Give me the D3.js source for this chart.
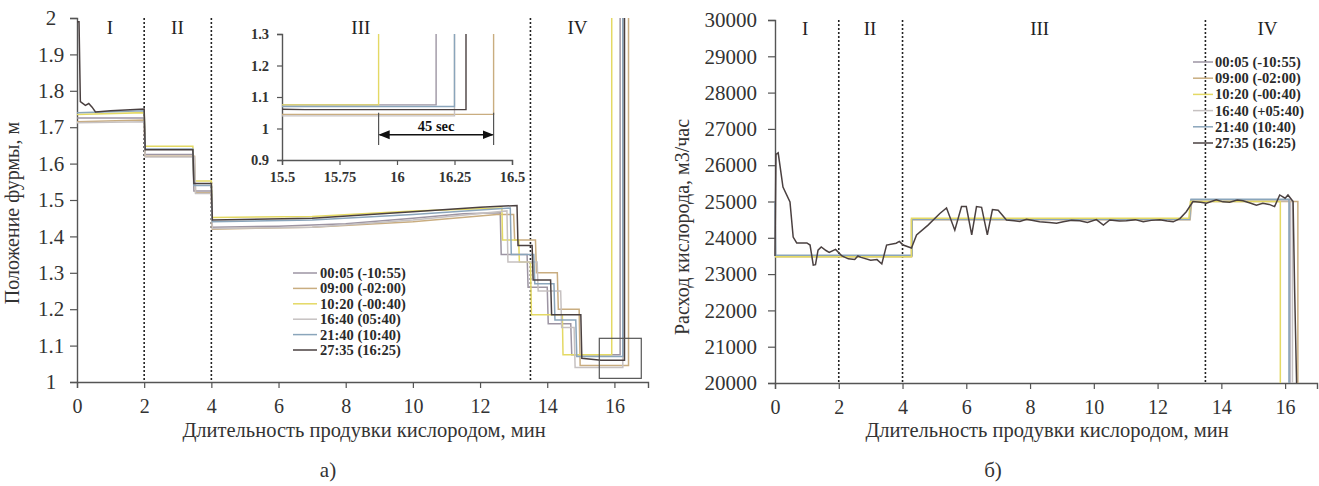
<!DOCTYPE html>
<html>
<head>
<meta charset="utf-8">
<script src="https://cdn.jsdelivr.net/npm/d3@7"></script>
<style>
  body { margin: 0; background: #fff; }
  svg { display: block; }
  svg text { font-family: "Liberation Serif", "DejaVu Serif", serif; }
</style>
</head>
<body>
<svg id="fig" width="1319" height="486"></svg>
<script>
// ---- heat labels (time from start, offset) ----
const labelsPos  = ["00:05 (-10:55)", "09:00 (-02:00)", "10:20 (-00:40)", "16:40 (05:40)", "21:40 (10:40)", "27:35 (16:25)"];
const labelsFlow = ["00:05 (-10:55)", "09:00 (-02:00)", "10:20 (-00:40)", "16:40 (+05:40)", "21:40 (10:40)", "27:35 (16:25)"];
const heatColors = ["#9d95a3", "#c9ad80", "#e4d964", "#c6c1c1", "#8aa5bb", "#4a4040"];

// ---- ticks ----
const minuteTicks  = [0, 2, 4, 6, 8, 10, 12, 14, 16];
const posTicks     = [1, 1.1, 1.2, 1.3, 1.4, 1.5, 1.6, 1.7, 1.8, 1.9, 2];
const flowTicks    = [20000, 21000, 22000, 23000, 24000, 25000, 26000, 27000, 28000, 29000, 30000];
const zoomMinTicks = [15.5, 15.75, 16, 16.25, 16.5];
const zoomPosTicks = [0.9, 1, 1.1, 1.2, 1.3];

// ---- blow stages ----
const stageBounds = [2, 4, 13.5];
const stageNames  = ["I", "II", "III", "IV"];
const stageXPos   = [0.98, 2.99, 8.45, 14.9];
const stageXFlow  = [0.95, 2.98, 8.3, 15.45];

// ---- lance position, m, vs blow time, min ----
const pos0005 = [[0,1.725],[2.0,1.725],[2.03,1.625],[3.45,1.625],[3.48,1.525],[4.0,1.525],[4.03,1.425],[6,1.428],[8,1.435],[10,1.45],[11.5,1.462],[12.6,1.465],[12.63,1.35],[13.4,1.35],[13.43,1.26],[14.0,1.26],[14.03,1.16],[14.7,1.16],[14.73,1.075],[16.17,1.075],[16.17,2.0]];
const pos0900 = [[0,1.715],[2.0,1.72],[2.03,1.62],[3.5,1.62],[3.53,1.52],[4.0,1.52],[4.03,1.42],[7,1.425],[10,1.44],[12.5,1.46],[13.0,1.46],[13.03,1.39],[13.65,1.39],[13.68,1.30],[14.3,1.30],[14.33,1.20],[14.95,1.2],[14.98,1.045],[16.42,1.045],[16.42,2.0]];
const pos1020 = [[0,1.735],[2.0,1.74],[2.03,1.648],[3.45,1.648],[3.48,1.552],[4.0,1.552],[4.03,1.452],[7,1.455],[10,1.47],[12.65,1.478],[12.67,1.39],[13.15,1.39],[13.17,1.33],[13.5,1.33],[13.53,1.185],[14.45,1.185],[14.47,1.075],[15.92,1.075],[15.92,2.0]];
const pos1640 = [[0,1.712],[2.0,1.715],[2.03,1.618],[3.5,1.618],[3.53,1.518],[4.0,1.518],[4.03,1.422],[7,1.425],[10,1.445],[12.8,1.47],[12.83,1.33],[13.7,1.33],[13.73,1.25],[14.4,1.25],[14.43,1.15],[14.8,1.15],[14.83,1.04],[16.25,1.04],[16.25,2.0]];
const pos2140 = [[0,1.74],[2.0,1.745],[2.03,1.64],[3.45,1.64],[3.48,1.54],[4.0,1.54],[4.03,1.44],[7,1.445],[10,1.46],[12.9,1.478],[12.93,1.35],[13.6,1.35],[13.63,1.27],[14.2,1.27],[14.23,1.17],[14.85,1.17],[14.88,1.07],[16.25,1.07],[16.25,2.0]];
const pos2735 = [[0,1.99],[0.06,1.99],[0.1,1.77],[0.25,1.76],[0.35,1.765],[0.45,1.755],[0.55,1.742],[1.0,1.745],[2.0,1.75],[2.03,1.638],[3.45,1.638],[3.48,1.545],[4.0,1.545],[4.03,1.445],[7,1.45],[10,1.468],[12.0,1.48],[13.1,1.485],[13.13,1.375],[13.55,1.375],[13.58,1.28],[14.1,1.28],[14.13,1.185],[15.0,1.185],[15.03,1.065],[15.6,1.06],[16.3,1.06],[16.3,2.0]];

// ---- oxygen flow, m3/h, vs blow time, min ----
const flow0005 = [[0,23500],[4.3,23500],[4.3,24520],[13.0,24520],[13.05,25050],[16.15,25050],[16.15,20000]];
const flow0900 = [[0,23480],[4.28,23480],[4.28,24500],[13.02,24500],[13.07,25000],[16.4,25000],[16.4,20000]];
const flow1020 = [[0,23480],[4.28,23480],[4.28,24540],[12.98,24540],[13.03,25000],[15.85,25000],[15.85,20000]];
const flow1640 = [[0,23500],[4.3,23500],[4.3,24500],[13.0,24500],[13.05,25020],[16.23,25020],[16.23,20000]];
const flow2140 = [[0,25000],[0.02,23520],[4.3,23520],[4.3,24510],[13.0,24510],[13.05,25060],[16.12,25060],[16.12,20000]];
const flow2735 = [[0,23500],[0.03,26300],[0.1,26340],[0.25,25400],[0.47,24990],[0.57,24020],[0.68,23860],[1.0,23860],[1.1,23800],[1.2,23250],[1.27,23260],[1.35,23660],[1.45,23750],[1.6,23650],[1.7,23600],[1.9,23680],[2.1,23500],[2.3,23420],[2.5,23400],[2.6,23500],[2.7,23460],[3.0,23380],[3.2,23400],[3.35,23280],[3.5,23800],[3.8,23850],[3.9,23900],[4.02,23800],[4.28,23720],[4.44,24080],[4.8,24350],[5.17,24670],[5.38,24820],[5.64,24210],[5.85,24860],[6.0,24860],[6.17,24080],[6.32,24860],[6.48,24840],[6.66,24080],[6.82,24780],[7.0,24760],[7.26,24490],[7.5,24470],[7.68,24450],[7.89,24510],[8.3,24440],[8.6,24420],[8.83,24400],[9.04,24440],[9.3,24480],[9.56,24470],[9.8,24420],[10.08,24500],[10.3,24350],[10.5,24490],[10.8,24460],[11.02,24470],[11.3,24500],[11.55,24440],[11.8,24480],[12.07,24500],[12.3,24460],[12.49,24440],[12.7,24530],[12.9,24720],[13.11,25000],[13.35,24980],[13.53,24950],[13.84,25050],[14.05,24990],[14.26,24980],[14.5,25040],[14.68,25020],[14.9,24960],[15.1,24900],[15.3,24950],[15.5,24920],[15.67,24860],[15.83,25180],[16.0,25090],[16.09,25180],[16.25,25000],[16.3,22500],[16.36,20000]];

const posSeries  = [pos0005, pos0900, pos1020, pos1640, pos2140, pos2735];
const flowSeries = [flow0005, flow0900, flow1640, flow2140, flow1020, flow2735];
const flowColors = [heatColors[0], heatColors[1], heatColors[3], heatColors[4], heatColors[2], heatColors[5]];

const svg = d3.select("#fig");
const ink = "#333";
const axisInk = "#555";
const serif = "'Liberation Serif', 'DejaVu Serif', serif";

// ---- scales ----
const xL = d3.scaleLinear().domain([0, 17]).range([77, 648]);
const yL = d3.scaleLinear().domain([1, 2]).range([382, 18]);
const xR = d3.scaleLinear().domain([0, 17]).range([775, 1317]);
const yR = d3.scaleLinear().domain([20000, 30000]).range([383, 20]);
const xI = d3.scaleLinear().domain([15.5, 16.5]).range([282, 512]);
const yI = d3.scaleLinear().domain([0.9, 1.3]).range([160, 34]);

function styleAxis(g, size, weight) {
  g.attr("font-family", serif).attr("font-size", null);
  g.select(".domain").attr("stroke", axisInk).attr("stroke-width", 1.4);
  g.selectAll(".tick line").attr("stroke", axisInk).attr("stroke-width", 1.2);
  g.selectAll(".tick text").attr("fill", ink).attr("font-family", serif)
    .attr("font-size", size).attr("font-weight", weight || "normal");
}

// ---- left panel: lance position ----
const left = svg.append("g");

left.append("g").attr("transform", "translate(0,382)")
  .call(d3.axisBottom(xL).tickValues(minuteTicks).tickSizeOuter(0).tickSize(6).tickPadding(11).tickFormat(String))
  .call(g => styleAxis(g, 20));
left.append("g").attr("transform", "translate(77,0)")
  .call(d3.axisLeft(yL).tickValues(posTicks).tickSizeOuter(0).tickSize(7).tickFormat(String))
  .call(g => styleAxis(g, 21))
  .call(g => g.selectAll(".tick text").attr("text-anchor", "middle").attr("x", -26));

left.selectAll("line.stage").data(stageBounds).join("line")
  .attr("x1", d => xL(d)).attr("x2", d => xL(d)).attr("y1", yL(2)).attr("y2", yL(1))
  .attr("stroke", "#222").attr("stroke-width", 1.6).attr("stroke-dasharray", "2,2");

left.selectAll("text.stage").data(stageNames).join("text")
  .attr("x", (d, i) => xL(stageXPos[i])).attr("y", 34).attr("text-anchor", "middle")
  .attr("font-family", serif).attr("font-size", 19).attr("fill", "#222").text(d => d);

const lineL = d3.line().x(d => xL(d[0])).y(d => yL(d[1]));
left.selectAll("path.pos").data(posSeries).join("path")
  .attr("d", lineL).attr("fill", "none")
  .attr("stroke", (d, i) => heatColors[i]).attr("stroke-width", 1.5);

// zoom frame around the end of blow
left.append("rect")
  .attr("x", xL(15.55)).attr("y", yL(1.12))
  .attr("width", xL(16.8) - xL(15.55)).attr("height", yL(1.01) - yL(1.12))
  .attr("fill", "none").attr("stroke", axisInk).attr("stroke-width", 1.2);

// legend
const legL = left.append("g");
labelsPos.forEach((lab, i) => {
  const y = 273 + i * 15.4;
  legL.append("line").attr("x1", 293).attr("x2", 317).attr("y1", y).attr("y2", y)
    .attr("stroke", heatColors[i]).attr("stroke-width", 1.5);
  legL.append("text").attr("x", 320).attr("y", y).attr("dy", "0.34em")
    .attr("font-family", serif).attr("font-size", 14.5).attr("font-weight", "bold")
    .attr("fill", "#2a2a2a").text(lab);
});

left.append("text").attr("transform", "translate(19,213) rotate(-90)")
  .attr("text-anchor", "middle").attr("font-family", serif).attr("font-size", 20)
  .attr("fill", ink).text("Положение фурмы, м");
left.append("text").attr("x", 364).attr("y", 437).attr("text-anchor", "middle")
  .attr("font-family", serif).attr("font-size", 20.5).attr("fill", ink)
  .text("Длительность продувки кислородом, мин");

// ---- inset: end of blow ----
const inset = svg.append("g");
const defs = svg.append("defs");
defs.append("clipPath").attr("id", "insetClip")
  .append("rect").attr("x", 282).attr("y", 34).attr("width", 230).attr("height", 126);
defs.append("marker").attr("id", "arrow").attr("viewBox", "0 0 10 10")
  .attr("refX", 9).attr("refY", 5).attr("markerWidth", 7).attr("markerHeight", 7)
  .attr("orient", "auto-start-reverse")
  .append("path").attr("d", "M0,1 L10,5 L0,9 Z").attr("fill", "#111");

inset.append("g").attr("transform", "translate(0,160)")
  .call(d3.axisBottom(xI).tickValues(zoomMinTicks).tickSizeOuter(0).tickSize(5).tickPadding(7).tickFormat(String))
  .call(g => styleAxis(g, 14.5, "bold"));
inset.append("g").attr("transform", "translate(282,0)")
  .call(d3.axisLeft(yI).tickValues(zoomPosTicks).tickSizeOuter(0).tickSize(5).tickPadding(8).tickFormat(String))
  .call(g => styleAxis(g, 14.5, "bold"));

const lineI = d3.line().x(d => xI(d[0])).y(d => yI(d[1]));
inset.append("g").attr("clip-path", "url(#insetClip)")
  .selectAll("path").data(posSeries).join("path")
  .attr("d", lineI).attr("fill", "none")
  .attr("stroke", (d, i) => heatColors[i]).attr("stroke-width", 1.4);

// 45 s span between first and last lance lift
[15.92, 16.42].forEach(t => {
  inset.append("line").attr("x1", xI(t)).attr("x2", xI(t)).attr("y1", yI(1.05)).attr("y2", yI(0.948))
    .attr("stroke", "#555").attr("stroke-width", 1.2);
});
inset.append("line").attr("x1", xI(15.92) + 1).attr("x2", xI(16.42) - 1)
  .attr("y1", yI(0.98)).attr("y2", yI(0.98))
  .attr("stroke", "#111").attr("stroke-width", 1.6)
  .attr("marker-start", "url(#arrow)").attr("marker-end", "url(#arrow)");
inset.append("text").attr("x", xI(16.17)).attr("y", yI(0.993)).attr("text-anchor", "middle")
  .attr("font-family", serif).attr("font-size", 14.5).attr("font-weight", "bold")
  .attr("fill", "#111").text("45 sec");

// ---- right panel: oxygen flow ----
const right = svg.append("g");

right.append("g").attr("transform", "translate(0,383)")
  .call(d3.axisBottom(xR).tickValues(minuteTicks).tickSizeOuter(0).tickSize(6).tickPadding(11).tickFormat(String))
  .call(g => styleAxis(g, 20));
right.append("g").attr("transform", "translate(775,0)")
  .call(d3.axisLeft(yR).tickValues(flowTicks).tickSizeOuter(0).tickSize(7).tickPadding(11).tickFormat(String))
  .call(g => styleAxis(g, 21));

right.selectAll("line.stage").data(stageBounds).join("line")
  .attr("x1", d => xR(d)).attr("x2", d => xR(d)).attr("y1", yR(30000)).attr("y2", yR(20000))
  .attr("stroke", "#222").attr("stroke-width", 1.6).attr("stroke-dasharray", "2,2");

right.selectAll("text.stage").data(stageNames).join("text")
  .attr("x", (d, i) => xR(stageXFlow[i])).attr("y", 35).attr("text-anchor", "middle")
  .attr("font-family", serif).attr("font-size", 19).attr("fill", "#222").text(d => d);

const lineR = d3.line().x(d => xR(d[0])).y(d => yR(d[1]));
right.selectAll("path.flow").data(flowSeries).join("path")
  .attr("d", lineR).attr("fill", "none")
  .attr("stroke", (d, i) => flowColors[i]).attr("stroke-width", 1.5);

const legR = right.append("g");
labelsFlow.forEach((lab, i) => {
  const y = 62 + i * 16.2;
  legR.append("line").attr("x1", 1193).attr("x2", 1213).attr("y1", y).attr("y2", y)
    .attr("stroke", heatColors[i]).attr("stroke-width", 1.5);
  legR.append("text").attr("x", 1215).attr("y", y).attr("dy", "0.34em")
    .attr("font-family", serif).attr("font-size", 14.5).attr("font-weight", "bold")
    .attr("fill", "#2a2a2a").text(lab);
});

right.append("text").attr("transform", "translate(689,227) rotate(-90)")
  .attr("text-anchor", "middle").attr("font-family", serif).attr("font-size", 20)
  .attr("fill", ink).text("Расход кислорода, м3/час");
right.append("text").attr("x", 1047).attr("y", 437).attr("text-anchor", "middle")
  .attr("font-family", serif).attr("font-size", 20.5).attr("fill", ink)
  .text("Длительность продувки кислородом, мин");

// ---- panel captions ----
svg.append("text").attr("x", 328).attr("y", 477).attr("text-anchor", "middle")
  .attr("font-family", "'Open Sans', 'Noto Sans', sans-serif").attr("font-size", 21).attr("fill", ink).text("а)");
svg.append("text").attr("x", 993).attr("y", 477).attr("text-anchor", "middle")
  .attr("font-family", "'Open Sans', 'Noto Sans', sans-serif").attr("font-size", 21).attr("fill", ink).text("б)");
</script>
</body>
</html>
